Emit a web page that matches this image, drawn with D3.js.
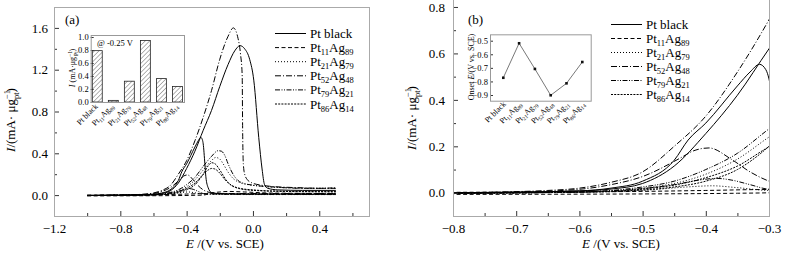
<!DOCTYPE html>
<html>
<head>
<meta charset="utf-8">
<script src="https://cdn.jsdelivr.net/npm/d3@7"></script>
<style>
  body { margin: 0; background: #fff; }
  svg, svg text { font-family: "Liberation Serif", Tinos, "Times New Roman", Times, serif; }
  svg { display: block; }
</style>
</head>
<body>
<svg id="chart" width="799" height="253" font-family="Liberation Serif, Times New Roman, serif"></svg>
<script>
// ---- CV scans, [E (V vs SCE), I (mA/ug Pt)] ----
const ptBlackFwd = [[-1.0,-0.003],[-0.8,0.0],[-0.7,0.003],[-0.6,0.008],[-0.55,0.016],[-0.5,0.04],[-0.45,0.115],[-0.4,0.255],
  [-0.35,0.42],[-0.3,0.62],[-0.25,0.81],[-0.2,1.04],[-0.15,1.25],[-0.11,1.38],[-0.078,1.43],[-0.05,1.4],[-0.02,1.3],
  [0.005,1.1],[0.035,0.55],[0.055,0.25],[0.07,0.1],[0.09,0.065],[0.15,0.05],[0.3,0.045],[0.5,0.045]];
const ptBlackRev = [[-1.0,-0.004],[-0.8,-0.002],[-0.7,0.002],[-0.6,0.008],[-0.55,0.02],[-0.5,0.05],[-0.45,0.14],[-0.428,0.227],
  [-0.4,0.3],[-0.35,0.46],[-0.33,0.52],[-0.315,0.553],[-0.305,0.53],[-0.3,0.49],[-0.29,0.3],[-0.284,0.175],[-0.27,0.07],
  [-0.25,0.025],[-0.2,0.012],[0.0,0.01],[0.5,0.008]];
const pt11Fwd = [[-1.0,-0.008],[-0.8,-0.007],[-0.5,-0.005],[-0.35,-0.002],[-0.3,0.0],[-0.25,0.02],[-0.2,0.03],[-0.15,0.035],
  [-0.05,0.03],[0.1,0.02],[0.5,0.015]];
const pt11Rev = [[-1.0,0.0],[-0.8,0.002],[-0.6,0.004],[-0.5,0.006],[-0.4,0.01],[-0.3,0.014],[-0.2,0.012],[0.5,0.005]];
const pt21Fwd = [[-1.0,-0.004],[-0.7,0.0],[-0.55,0.008],[-0.5,0.02],[-0.45,0.04],[-0.4,0.08],[-0.35,0.145],[-0.3,0.24],
  [-0.25,0.33],[-0.225,0.36],[-0.2,0.345],[-0.18,0.3],[-0.15,0.22],[-0.12,0.16],[-0.08,0.12],[-0.03,0.1],[0.05,0.085],
  [0.2,0.07],[0.35,0.065],[0.5,0.065]];
const pt21Rev = [[-1.0,-0.004],[-0.6,0.002],[-0.5,0.01],[-0.43,0.025],[-0.39,0.03],[-0.35,0.022],[-0.3,0.01],[0.0,0.005],[0.5,0.005]];
const pt52Fwd = [[-1.0,-0.003],[-0.8,0.0],[-0.7,0.005],[-0.65,0.01],[-0.6,0.02],[-0.55,0.045],[-0.5,0.09],[-0.45,0.2],
  [-0.4,0.33],[-0.35,0.52],[-0.3,0.745],[-0.25,1.0],[-0.2,1.3],[-0.15,1.52],[-0.118,1.6],[-0.09,1.5],[-0.075,1.35],
  [-0.065,1.15],[-0.062,0.6],[-0.058,0.3],[-0.05,0.2],[-0.035,0.15],[-0.01,0.12],[0.05,0.095],[0.1,0.085],[0.2,0.075],
  [0.3,0.07],[0.4,0.065],[0.5,0.065]];
const pt52Rev = [[-1.0,-0.003],[-0.8,-0.001],[-0.7,0.003],[-0.6,0.015],[-0.55,0.035],[-0.5,0.07],[-0.44,0.15],[-0.42,0.18],
  [-0.395,0.193],[-0.36,0.145],[-0.33,0.09],[-0.3,0.05],[-0.25,0.022],[-0.2,0.016],[0.0,0.015],[0.5,0.015]];
const pt79Fwd = [[-1.0,-0.004],[-0.7,0.0],[-0.6,0.004],[-0.55,0.01],[-0.5,0.025],[-0.45,0.05],[-0.4,0.1],[-0.35,0.17],
  [-0.3,0.275],[-0.25,0.37],[-0.21,0.425],[-0.19,0.42],[-0.17,0.38],[-0.15,0.3],[-0.12,0.2],[-0.09,0.14],[-0.05,0.11],
  [0.0,0.095],[0.1,0.08],[0.2,0.07],[0.3,0.065],[0.4,0.065],[0.5,0.07]];
const pt79Rev = [[-1.0,-0.004],[-0.8,-0.002],[-0.6,0.003],[-0.55,0.008],[-0.5,0.018],[-0.45,0.035],[-0.41,0.055],[-0.383,0.062],
  [-0.36,0.055],[-0.33,0.035],[-0.3,0.015],[-0.25,0.01],[0.0,0.008],[0.5,0.008]];
const pt86Fwd = [[-1.0,-0.004],[-0.7,0.0],[-0.55,0.006],[-0.5,0.016],[-0.45,0.033],[-0.4,0.065],[-0.35,0.115],[-0.3,0.198],
  [-0.27,0.24],[-0.25,0.255],[-0.23,0.25],[-0.2,0.21],[-0.17,0.15],[-0.13,0.095],[-0.08,0.065],[0.0,0.05],[0.1,0.04],
  [0.3,0.035],[0.5,0.035]];
const pt86Rev = [[-1.0,-0.004],[-0.8,-0.002],[-0.6,0.003],[-0.5,0.012],[-0.45,0.025],[-0.4,0.05],[-0.35,0.1],[-0.3,0.2],
  [-0.27,0.28],[-0.248,0.31],[-0.225,0.295],[-0.2,0.24],[-0.15,0.12],[-0.1,0.07],[0.0,0.045],[0.2,0.035],[0.5,0.03]];

// ---- series / legend ----
const seriesNames = ["Pt black", "Pt11Ag89", "Pt21Ag79", "Pt52Ag48", "Pt79Ag21", "Pt86Ag14"];
const seriesDash = [null, "4,2.5", "1,2", "6,2,1,2", "5,1.5,1,1.5,1,1.5", "2,1.2"];
const seriesScans = [[ptBlackFwd, ptBlackRev], [pt11Fwd, pt11Rev], [pt21Fwd, pt21Rev],
                     [pt52Fwd, pt52Rev], [pt79Fwd, pt79Rev], [pt86Fwd, pt86Rev]];

// ---- inset data ----
const currentAt025 = [0.79, 0.025, 0.32, 0.945, 0.36, 0.24];
const onsetPotential = [-0.773, -0.519, -0.708, -0.902, -0.814, -0.657];

// ---- ticks ----
const aTicksX = [-1.2, -0.8, -0.4, 0.0, 0.4];
const aMinorX = [-1.0, -0.6, -0.2, 0.2, 0.6];
const aTicksY = [0.0, 0.4, 0.8, 1.2, 1.6];
const aMinorY = [-0.2, 0.2, 0.6, 1.0, 1.4];
const bTicksX = [-0.8, -0.7, -0.6, -0.5, -0.4, -0.3];
const bMinorX = [-0.75, -0.65, -0.55, -0.45, -0.35];
const bTicksY = [0.0, 0.2, 0.4, 0.6, 0.8];
const bMinorY = [-0.1, 0.1, 0.3, 0.5, 0.7];
const insetTicksY = [0.0, 0.2, 0.4, 0.6, 0.8, 1.0];
const onsetTicksY = [-0.5, -0.6, -0.7, -0.8, -0.9];

const svg = d3.select("#chart");
const fmt = d3.format(".1f");
const frameColor = "#aaa";

// text with subscript numbers: Pt11Ag89
function chem(sel, label, subSize, shift) {
  let down = false;
  label.split(/(\d+)/).filter(s => s).forEach(p => {
    const t = sel.append("tspan").text(p);
    if (/^\d+$/.test(p)) {
      t.attr("font-size", subSize);
      if (!down) t.attr("dy", shift);
      down = true;
    } else {
      if (down) t.attr("dy", -shift);
      down = false;
    }
  });
}

function styleAxis(g, size) {
  g.select(".domain").remove();
  g.attr("font-family", null).attr("font-size", size);
  g.selectAll(".tick line").attr("stroke", "#333");
  g.selectAll(".tick text").attr("fill", "#000");
}

function drawPanel(p) {
  const x = d3.scaleLinear().domain(p.xDomain).range([p.left, p.right]);
  const y = d3.scaleLinear().domain(p.yDomain).range([p.bottom, p.top]);
  const g = svg.append("g");

  g.append("clipPath").attr("id", p.id)
    .append("rect")
    .attr("x", p.left).attr("y", p.top)
    .attr("width", p.right - p.left).attr("height", p.bottom - p.top);

  const line = d3.line()
    .x(d => x(d[0]))
    .y(d => y(d[1]))
    .curve(d3.curveMonotoneX);

  const curves = g.append("g").attr("clip-path", `url(#${p.id})`);
  seriesScans.forEach((scans, i) => {
    scans.forEach(scan => {
      curves.append("path")
        .datum(scan)
        .attr("d", line)
        .attr("fill", "none")
        .attr("stroke", "#000")
        .attr("stroke-width", 1)
        .attr("stroke-dasharray", seriesDash[i]);
    });
  });

  // axes, ticks inward
  g.append("g").attr("transform", `translate(0,${p.bottom})`)
    .call(d3.axisBottom(x).tickValues(p.xTicks).tickSize(-5).tickPadding(8).tickFormat(fmt))
    .call(a => styleAxis(a, 13));
  g.append("g").attr("transform", `translate(0,${p.bottom})`)
    .call(d3.axisBottom(x).tickValues(p.xMinor).tickSize(-3).tickFormat(""))
    .call(a => styleAxis(a, 13));
  g.append("g").attr("transform", `translate(${p.left},0)`)
    .call(d3.axisLeft(y).tickValues(p.yTicks).tickSize(-5).tickPadding(p.yPad).tickFormat(fmt))
    .call(a => styleAxis(a, 13));
  g.append("g").attr("transform", `translate(${p.left},0)`)
    .call(d3.axisLeft(y).tickValues(p.yMinor).tickSize(-3).tickFormat(""))
    .call(a => styleAxis(a, 13));

  g.append("rect")
    .attr("x", p.left + 0.5).attr("y", p.frameTop + 0.5)
    .attr("width", p.right - p.left).attr("height", p.bottom - p.frameTop)
    .attr("fill", "none").attr("stroke", frameColor);

  // axis titles
  const xt = g.append("text").attr("x", p.xTitleX).attr("y", 248)
    .attr("text-anchor", "middle").attr("font-size", 13);
  xt.append("tspan").attr("font-style", "italic").text("E");
  xt.append("tspan").text(" /(V vs. SCE)");

  const yt = g.append("text")
    .attr("transform", `translate(${p.yTitleX},${p.yTitleY}) rotate(-90)`)
    .attr("text-anchor", "middle").attr("font-size", 13);
  yt.append("tspan").attr("font-style", "italic").text("I");
  yt.append("tspan").text("/(mA· μg");
  yt.append("tspan").attr("font-size", 8.5).attr("dy", -5).text("−1");
  yt.append("tspan").attr("font-size", 8.5).attr("dy", 9).attr("dx", -9).text("pt");
  yt.append("tspan").attr("dy", -4).text(")");

  g.append("text").attr("x", p.tagX).attr("y", 24).attr("font-size", 13).text(p.tag);

  // legend
  seriesNames.forEach((name, i) => {
    const ly = p.legTop + i * p.legStep;
    g.append("line")
      .attr("x1", p.legX).attr("x2", p.legX + 31)
      .attr("y1", ly).attr("y2", ly)
      .attr("stroke", "#000").attr("stroke-width", 1)
      .attr("stroke-dasharray", seriesDash[i]);
    const t = g.append("text")
      .attr("x", p.legX + 35).attr("y", ly + 4.5).attr("font-size", 13);
    chem(t, name, 8.5, 3);
  });
  return g;
}

drawPanel({
  id: "clipA", tag: "(a)", tagX: 65,
  left: 54, right: 369, top: 7, bottom: 216, frameTop: 7,
  xDomain: [-1.2, 0.7], yDomain: [-0.2, 1.8],
  xTicks: aTicksX, xMinor: aMinorX, yTicks: aTicksY, yMinor: aMinorY, yPad: 6,
  xTitleX: 225, yTitleX: 15, yTitleY: 120,
  legX: 275, legTop: 33.5, legStep: 14.1
});

drawPanel({
  id: "clipB", tag: "(b)", tagX: 468,
  left: 453, right: 769, top: 0, bottom: 216, frameTop: -2,
  xDomain: [-0.8, -0.3], yDomain: [-0.1, 0.83],
  xTicks: bTicksX, xMinor: bMinorX, yTicks: bTicksY, yMinor: bMinorY, yPad: 8,
  xTitleX: 621, yTitleX: 416, yTitleY: 118,
  legX: 611, legTop: 24.5, legStep: 14
});

// ---- inset (a): bars at -0.25 V ----
(function () {
  const L = 90.7, R = 184, T = 35, B = 102;
  const defs = svg.append("defs");
  defs.append("pattern")
    .attr("id", "hatch").attr("patternUnits", "userSpaceOnUse")
    .attr("width", 3.2).attr("height", 3.2)
    .attr("patternTransform", "rotate(45)")
    .append("line")
    .attr("x1", 0).attr("y1", 0).attr("x2", 0).attr("y2", 3.2)
    .attr("stroke", "#444").attr("stroke-width", 0.8);

  const x = d3.scaleBand().domain(seriesNames).range([L, R]).paddingInner(0.38).paddingOuter(0.1);
  const y = d3.scaleLinear().domain([0, 1.0]).range([B, 37]);
  const g = svg.append("g");

  g.append("rect").attr("x", L).attr("y", T).attr("width", R - L).attr("height", B - T)
    .attr("fill", "#fff").attr("stroke", "none");

  g.selectAll(".bar")
    .data(currentAt025)
    .join("rect")
    .attr("x", (d, i) => x(seriesNames[i]))
    .attr("y", d => y(d))
    .attr("width", x.bandwidth())
    .attr("height", d => B - y(d))
    .attr("fill", "url(#hatch)")
    .attr("stroke", "#222").attr("stroke-width", 0.8);

  g.append("g").attr("transform", `translate(${L},0)`)
    .call(d3.axisLeft(y).tickValues(insetTicksY).tickSize(-3).tickPadding(2).tickFormat(fmt))
    .call(a => styleAxis(a, 8.5));

  g.append("rect").attr("x", L + 0.5).attr("y", T + 0.5).attr("width", R - L).attr("height", B - T)
    .attr("fill", "none").attr("stroke", "#999");

  g.append("text").attr("x", 97).attr("y", 46).attr("font-size", 8.5).text("@ -0.25 V");

  seriesNames.forEach(name => {
    const cx = x(name) + x.bandwidth() / 2 + 1;
    const t = g.append("text")
      .attr("transform", `translate(${cx},${B + 5}) rotate(-45)`)
      .attr("text-anchor", "end").attr("font-size", 8);
    chem(t, name, 5.5, 2);
  });

  const yl = g.append("text")
    .attr("transform", `translate(75,68) rotate(-90)`)
    .attr("text-anchor", "middle").attr("font-size", 8);
  yl.append("tspan").attr("font-style", "italic").text("I");
  yl.append("tspan").text(" (mA·μg");
  yl.append("tspan").attr("font-size", 5.5).attr("dy", -3).text("−1");
  yl.append("tspan").attr("font-size", 5.5).attr("dy", 5.5).attr("dx", -5).text("Pt");
  yl.append("tspan").attr("dy", -2.5).text(")");
})();

// ---- inset (b): onset potential ----
(function () {
  const L = 490, R = 590.7;
  const x = d3.scalePoint().domain(seriesNames).range([503.3, 582.3]);
  const y = d3.scaleLinear().domain([-0.5, -0.9]).range([40.7, 95]);
  const T = y(-0.453), B = y(-0.942);
  const g = svg.append("g");

  g.append("rect").attr("x", L).attr("y", T).attr("width", R - L).attr("height", B - T)
    .attr("fill", "#fff");

  g.append("path")
    .datum(onsetPotential)
    .attr("d", d3.line().x((d, i) => x(seriesNames[i])).y(d => y(d)))
    .attr("fill", "none").attr("stroke", "#555").attr("stroke-width", 0.8);

  g.selectAll(".pt")
    .data(onsetPotential)
    .join("rect")
    .attr("x", (d, i) => x(seriesNames[i]) - 1.3)
    .attr("y", d => y(d) - 1.3)
    .attr("width", 2.6).attr("height", 2.6)
    .attr("fill", "#111");

  g.append("g").attr("transform", `translate(${L},0)`)
    .call(d3.axisLeft(y).tickValues(onsetTicksY).tickSize(-3).tickPadding(2).tickFormat(fmt))
    .call(a => styleAxis(a, 8.5));

  g.append("rect").attr("x", L + 0.5).attr("y", T + 0.5).attr("width", R - L).attr("height", B - T)
    .attr("fill", "none").attr("stroke", "#999");

  seriesNames.forEach(name => {
    const t = g.append("text")
      .attr("transform", `translate(${x(name) + 3},${B + 4}) rotate(-45)`)
      .attr("text-anchor", "end").attr("font-size", 8);
    chem(t, name, 5.5, 2);
  });

  const yl = g.append("text")
    .attr("transform", `translate(474,67) rotate(-90)`)
    .attr("text-anchor", "middle").attr("font-size", 8);
  yl.append("tspan").text("Onset ");
  yl.append("tspan").attr("font-style", "italic").text("E");
  yl.append("tspan").text("/(V vs. SCE)");
})();
</script>
</body>
</html>
